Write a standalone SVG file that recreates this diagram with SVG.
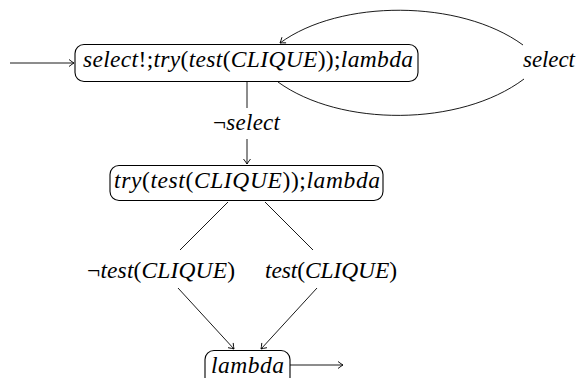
<svg xmlns="http://www.w3.org/2000/svg" width="576" height="378" viewBox="0 0 576 378">
<style>
.box{fill:#fff;stroke:#000;stroke-width:1.1}
.e{fill:none;stroke:#000;stroke-width:0.9}
</style>
<defs>
<marker id="ar" viewBox="-6 -4 7 8" refX="0" refY="0" markerWidth="7" markerHeight="8" markerUnits="userSpaceOnUse" orient="auto" overflow="visible">
<path d="M-5,-3.5 Q-1.5,-0.8 0,0 Q-1.5,0.8 -5,3.5" fill="none" stroke="#000" stroke-width="0.9"/>
</marker>
</defs>
<g id="edges">
<g id="e-in"><line class="e" x1="10" y1="63" x2="74" y2="63" marker-end="url(#ar)"/></g>
<g id="e-loop">
<path class="e" d="M278,82 C340,127 460,127 524,79"/>
<path class="e" d="M523,45 C460,-1 340,-1 280,43" marker-end="url(#ar)"/>
<text font-family="Liberation Serif" font-style="italic" font-size="23" x="523" y="67" textLength="52" lengthAdjust="spacing">select</text>
</g>
<g id="e-notselect">
<line class="e" x1="247" y1="82" x2="247" y2="108"/>
<line class="e" x1="247" y1="139" x2="247" y2="164" marker-end="url(#ar)"/>
<text font-family="Liberation Serif" font-style="italic" font-size="23" x="213" y="130" textLength="67" lengthAdjust="spacing"><tspan font-style="normal">¬</tspan>select</text>
</g>
<g id="e-nottest">
<line class="e" x1="228" y1="202" x2="180" y2="250"/>
<line class="e" x1="178" y1="288" x2="234" y2="349" marker-end="url(#ar)"/>
<text font-family="Liberation Serif" font-style="italic" font-size="23.5" x="87" y="278" textLength="148" lengthAdjust="spacing"><tspan font-style="normal">¬</tspan>test<tspan font-style="normal">(</tspan>CLIQUE<tspan font-style="normal">)</tspan></text>
</g>
<g id="e-test">
<line class="e" x1="265" y1="202" x2="313" y2="250"/>
<line class="e" x1="317" y1="288" x2="261" y2="349" marker-end="url(#ar)"/>
<text font-family="Liberation Serif" font-style="italic" font-size="23.5" x="265" y="278" textLength="132" lengthAdjust="spacing">test<tspan font-style="normal">(</tspan>CLIQUE<tspan font-style="normal">)</tspan></text>
</g>
<g id="e-out"><line class="e" x1="290" y1="365" x2="343" y2="365" marker-end="url(#ar)"/></g>
</g>
<g id="n1">
<rect class="box" x="75" y="44.5" width="343" height="37" rx="9"/>
<text font-family="Liberation Serif" font-style="italic" font-size="23.5" x="83" y="67" textLength="330" lengthAdjust="spacing">select<tspan font-style="normal">!;</tspan>try<tspan font-style="normal">(</tspan>test<tspan font-style="normal">(</tspan>CLIQUE<tspan font-style="normal">));</tspan>lambda</text>
</g>
<g id="n2">
<rect class="box" x="110" y="165.5" width="273" height="35" rx="9"/>
<text font-family="Liberation Serif" font-style="italic" font-size="23.5" x="114" y="188" textLength="266" lengthAdjust="spacing">try<tspan font-style="normal">(</tspan>test<tspan font-style="normal">(</tspan>CLIQUE<tspan font-style="normal">));</tspan>lambda</text>
</g>
<g id="n3">
<rect class="box" x="205" y="350.5" width="85" height="36" rx="9"/>
<text font-family="Liberation Serif" font-style="italic" font-size="23.5" x="211" y="373" textLength="73" lengthAdjust="spacing">lambda</text>
</g>
</svg>
